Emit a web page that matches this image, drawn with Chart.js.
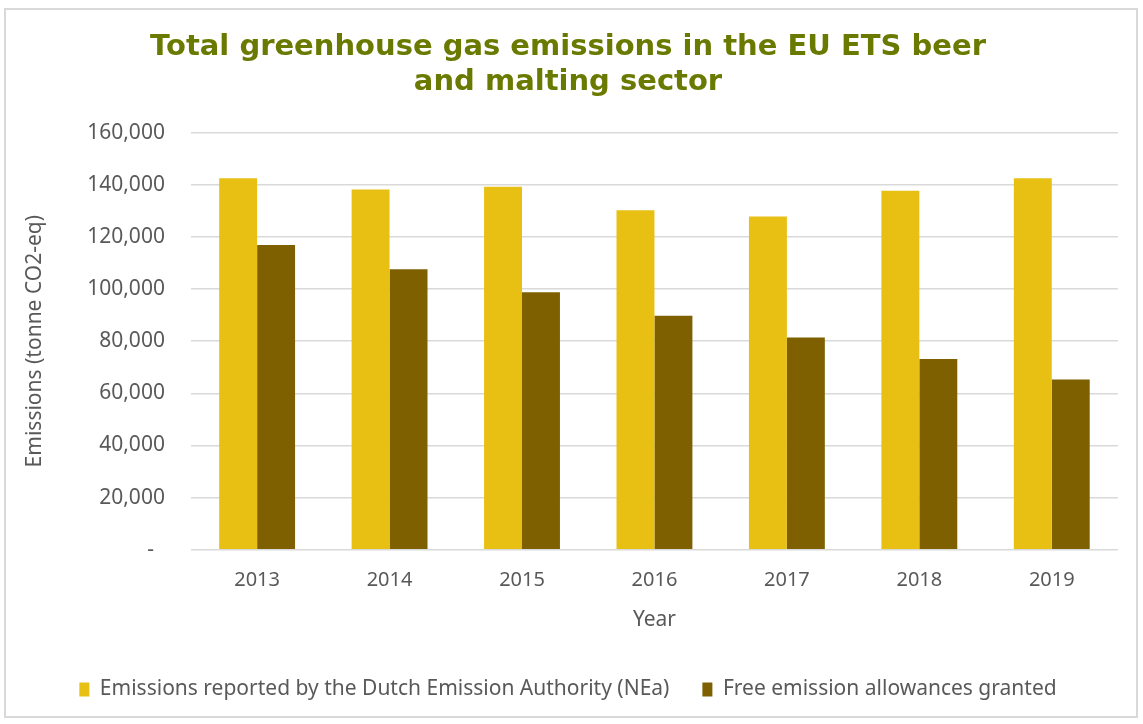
<!DOCTYPE html>
<html>
<head>
<meta charset="utf-8">
<script src="https://cdn.jsdelivr.net/npm/chart.js@4.4.1/dist/chart.umd.min.js"></script>
<style>
  html, body { margin: 0; padding: 0; background: #fff; }
  #frame {
    position: absolute; left: 4px; top: 8px; width: 1134px; height: 710px;
    border: 2px solid #d9d9d9; box-sizing: border-box;
  }
  #wrap { position: absolute; left: 0; top: 0; right: 0; bottom: 0; }
</style>
</head>
<body>
<div id="frame"><div id="wrap"><canvas id="myGraph"></canvas></div></div>
<script>
const years = ['2013', '2014', '2015', '2016', '2017', '2018', '2019'];
const reportedEmissions = [142500, 138200, 139200, 130200, 127800, 137700, 142500];
const freeAllowances   = [116900, 107600, 98800, 89800, 81400, 73200, 65300];
const seriesNames = ['Emissions reported by the Dutch Emission Authority (NEa)', 'Free emission allowances granted'];
const titleLines = ['Total greenhouse gas emissions in the EU ETS beer', 'and malting sector'];

const textGrey = '#595959';
const baseFont = 'Noto Sans';

const ctx = document.getElementById('myGraph').getContext('2d');
const chart = new Chart(ctx, {
    type: 'bar',
    data: {
        labels: years,
        datasets: [
            {
                label: seriesNames[0],
                data: reportedEmissions,
                backgroundColor: '#e8c014',
                borderWidth: 0
            },
            {
                label: seriesNames[1],
                data: freeAllowances,
                backgroundColor: '#7f6000',
                borderWidth: 0
            }
        ]
    },
    options: {
        responsive: true,
        maintainAspectRatio: false,
        animation: false,
        layout: { padding: { left: 12, right: 18, top: 20, bottom: 6 } },
        datasets: { bar: { barPercentage: 1, categoryPercentage: 0.573 } },
        plugins: {
            tooltip: { enabled: false },
            title: {
                display: true,
                text: titleLines,
                color: '#6a7a00',
                font: { family: 'DejaVu Sans', weight: 'bold', size: 29, lineHeight: 1.2 },
                padding: { top: 0, bottom: 33 }
            },
            legend: {
                position: 'bottom',
                labels: {
                    color: textGrey,
                    font: { family: baseFont, size: 21 },
                    boxWidth: 10,
                    boxHeight: 14,
                    padding: 33
                }
            }
        },
        scales: {
            x: {
                grid: { display: false },
                border: { display: false },
                ticks: { color: textGrey, font: { family: baseFont, size: 20 }, padding: 10 },
                title: {
                    display: true, text: 'Year', color: textGrey,
                    font: { family: baseFont, size: 21 }, padding: { top: 6, bottom: 13 }
                }
            },
            y: {
                min: 0,
                max: 160000,
                ticks: {
                    stepSize: 20000,
                    color: textGrey,
                    font: { family: baseFont, size: 21 },
                    padding: 26,
                    callback: function (v) { return v === 0 ? '-  ' : v.toLocaleString('en-US'); }
                },
                grid: { color: '#d9d9d9', lineWidth: 1.5, drawTicks: false },
                border: { display: false },
                title: {
                    display: true, text: 'Emissions (tonne CO2-eq)', color: textGrey,
                    font: { family: baseFont, size: 21 }, padding: { bottom: 14 }
                }
            }
        }
    }
});
</script>
</body>
</html>
